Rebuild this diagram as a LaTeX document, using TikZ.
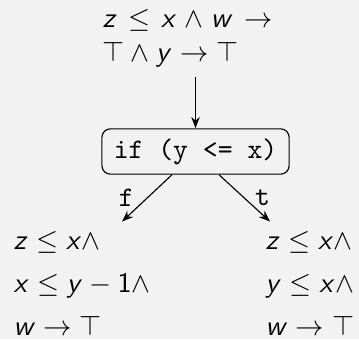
\documentclass[tikz,border=0pt]{standalone}
\usetikzlibrary{arrows.meta,calc}
\definecolor{paper}{gray}{0.95}
% sans-serif slanted variables and upright sans digits in math
\DeclareSymbolFont{sfletters}{OT1}{cmss}{m}{sl}
\DeclareSymbolFont{sfdigits}{OT1}{cmss}{m}{n}
\DeclareMathSymbol{w}{\mathalpha}{sfletters}{`w}
\DeclareMathSymbol{x}{\mathalpha}{sfletters}{`x}
\DeclareMathSymbol{y}{\mathalpha}{sfletters}{`y}
\DeclareMathSymbol{z}{\mathalpha}{sfletters}{`z}
\DeclareMathSymbol{1}{\mathalpha}{sfdigits}{`1}
\tikzset{
  formula/.style={inner sep=0.3333em},
  test/.style={draw, rounded corners=3pt, font=\ttfamily, inner xsep=4.2pt, inner ysep=3.4pt},
  flow/.style={-{Stealth[length=4pt,width=3pt]}, line width=0.4pt},
  branch/.style={font=\ttfamily, midway}
}
\begin{document}
\begin{tikzpicture}[x=0.3534pt, y=-0.3534pt]
  \fill[paper] (0,0) rectangle (359,339);
  \useasboundingbox (0,0) rectangle (359,339);

  % precondition before the test
  \node[formula, anchor=north west, text width=60pt, align=justify] (pre) at (92.6,-0.4)
    {$z \le x \wedge w \to$\linebreak$\top \wedge y \to \top$};

  % the conditional
  \node[test] (if) at (195.5,151.5) {if (y <= x)};

  % states after each branch
  \node[formula, anchor=north west, align=left] (lf) at (3.6,221.6)
    {$z \le x \wedge$\\[3.2pt]$x \le y - 1 \wedge$\\[3.2pt]$w \to \top$};
  \node[formula, anchor=north west, align=left] (rf) at (255.6,221.6)
    {$z \le x \wedge$\\[3.2pt]$y \le x \wedge$\\[3.2pt]$w \to \top$};

  \draw[flow] (pre.south -| if.north) -- (if.north);
  \draw[flow] ($(if.south)+(-23.5,0)$) -- node[branch, anchor=east, inner xsep=4.46pt] {f} ($(lf.north west)+(118.4,0)$);
  \draw[flow] ($(if.south)+(23.5,0)$) -- node[branch, anchor=west, inner xsep=3.55pt] {t} ($(rf.north west)+(14.4,0)$);
\end{tikzpicture}
\end{document}
